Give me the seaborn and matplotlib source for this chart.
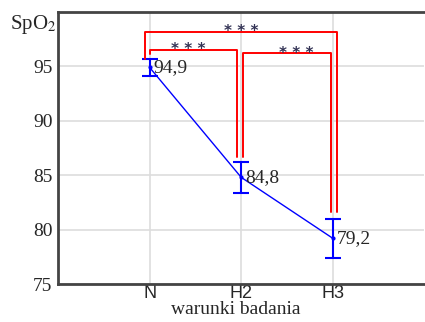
import matplotlib
matplotlib.use("Agg")
import matplotlib.pyplot as plt
import seaborn as sns
import pandas as pd

categories = ["N", "H2", "H3"]
means = [94.9, 84.8, 79.2]
errors = [0.8, 1.4, 1.8]
value_labels = ["94,9", "84,8", "79,2"]
y_ticks = [75, 80, 85, 90, 95]

# significance brackets: (left index, right index, bracket top, left leg bottom, right leg bottom, label)
brackets = [
    (0, 2, 98.2, 95.7, 81.6, "* * *"),
    (0, 1, 96.5, 96.1, 86.7, "* * *"),
    (1, 2, 96.2, 86.7, 81.6, "* * *"),
]

sns.set_style("white")
serif = ["Liberation Serif", "DejaVu Serif"]

fig = plt.figure(figsize=(4.25, 3.22), dpi=100)
ax = fig.add_axes([0.1365, 0.118, 0.862, 0.845])

df = pd.DataFrame({"x": range(len(categories)), "y": means})
sns.lineplot(data=df, x="x", y="y", ax=ax, color="#0000ff", linewidth=1.0,
             marker="o", markersize=3, markeredgewidth=0)
ax.errorbar(df["x"], df["y"], yerr=errors, fmt="none", ecolor="#0000ff",
            elinewidth=1.5, capsize=6, capthick=1.5)

for i, (m, lab) in enumerate(zip(means, value_labels)):
    ax.text(i + 0.04, m, lab, fontsize=14, family=serif, va="center", ha="left")

offsets = {(0, 2): (-0.05, 0.05), (0, 1): (0.0, -0.05), (1, 2): (0.02, -0.02)}
star_shift = {(0, 2): 0.0, (0, 1): -0.05, (1, 2): 0.1}
for li, ri, top, lb, rb, lab in brackets:
    dl, dr = offsets[(li, ri)]
    xl, xr = li + dl, ri + dr
    ax.plot([xl, xl, xr, xr], [lb, top, top, rb], color="#ff0000", linewidth=1.4)
    ax.text((xl + xr) / 2 + star_shift[(li, ri)], top - 0.4, lab, ha="center",
            va="baseline", fontsize=11, family=["DejaVu Sans"], color="#333355",
            fontweight="bold")

ax.set_xlim(-1, 3)
ax.set_ylim(75, 100)
ax.set_xticks(range(len(categories)))
ax.set_xticklabels(categories, family=["Liberation Sans", "DejaVu Sans"], fontsize=13)
ax.set_yticks(y_ticks)
ax.set_yticklabels([str(t) for t in y_ticks], family=serif, fontsize=14)
ax.grid(True, color="#dddddd", linewidth=1.2)
ax.set_axisbelow(True)
ax.tick_params(axis="y", length=0, pad=4)
ax.tick_params(axis="x", length=0, pad=1)

for s in ["left", "bottom", "top"]:
    ax.spines[s].set_color("#444444")
    ax.spines[s].set_linewidth(2)
ax.spines["right"].set_visible(False)

ax.set_xlabel("warunki badania", family=serif, fontsize=14, labelpad=-1)
ax.xaxis.set_label_coords(0.484, -0.062)
ax.set_ylabel("")
fig.text(0.078, 0.925, "SpO$_2$", family=serif, fontsize=15, ha="center", va="center",
         math_fontfamily="stix")

fig.savefig("out.png", dpi=100)
